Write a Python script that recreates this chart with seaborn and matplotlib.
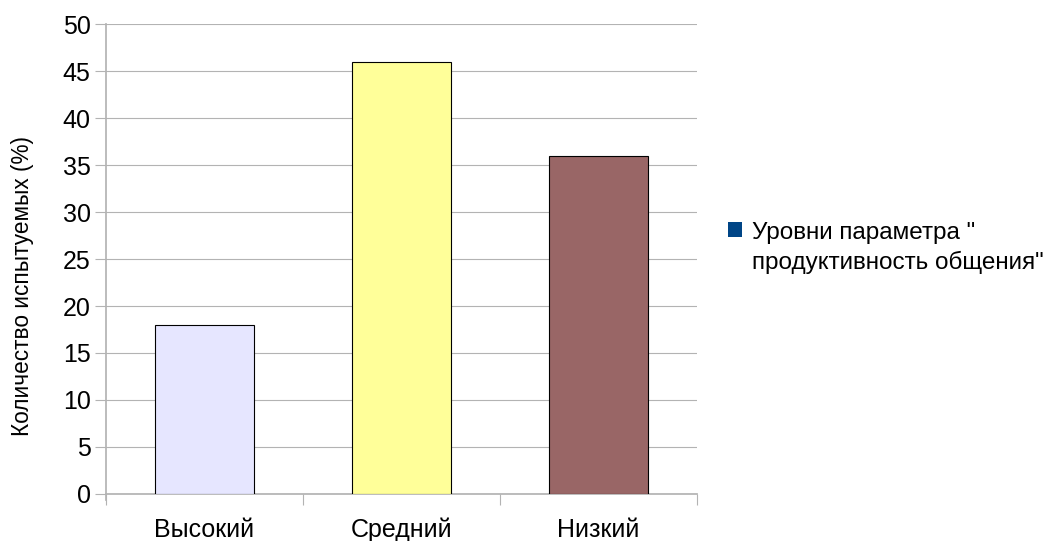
import matplotlib
matplotlib.use("Agg")
import matplotlib.pyplot as plt
from matplotlib.patches import Patch
import seaborn as sns
import pandas as pd

categories = ["Высокий", "Средний", "Низкий"]
values = [18, 46, 36]
bar_colors = ["#e6e6ff", "#ffff99", "#996666"]
series_name = "Уровни параметра \"\nпродуктивность общения\""
y_label = "Количество испытуемых (%)"
y_ticks = list(range(0, 51, 5))

sns.set_theme(style="white")
plt.rcParams["font.family"] = ["Liberation Sans", "DejaVu Sans"]

df = pd.DataFrame({"level": categories, "value": values})

fig = plt.figure(figsize=(10.47, 5.41), dpi=100)
ax = fig.add_axes([0.1012, 0.0869, 0.5645, 0.8687])

sns.barplot(data=df, x="level", y="value", hue="level", palette=bar_colors,
            saturation=1, width=0.5, edgecolor="#000000", linewidth=0.8,
            legend=False, ax=ax, zorder=3)

ax.set_xlim(-0.5, 2.5)
ax.set_ylim(0, 50)
ax.set_yticks(y_ticks)
ax.yaxis.grid(True, color="#b3b3b3", linewidth=0.8, zorder=0)
ax.set_axisbelow(True)

for side in ["top", "right"]:
    ax.spines[side].set_visible(False)
ax.spines["left"].set_color("#b3b3b3")
ax.spines["bottom"].set_color("#b3b3b3")
ax.spines["left"].set_bounds(-0.6, 50)

ax.set_xticks([0, 1, 2])
ax.set_xticklabels(categories)
ax.set_xticks([-0.5, 0.5, 1.5, 2.5], minor=True)
ax.tick_params(axis="x", which="major", length=0, labelsize=18, pad=31,
               labelcolor="#000000")
for lbl in ax.get_xticklabels():
    lbl.set_verticalalignment("baseline")
ax.tick_params(axis="x", which="minor", length=8, width=0.8, color="#b3b3b3",
               bottom=True)
ax.tick_params(axis="y", length=8, width=0.8, color="#b3b3b3", labelsize=18,
               pad=3, labelcolor="#000000", left=True)

ax.set_xlabel("")
ax.set_ylabel(y_label, fontsize=16.3, color="#000000")
ax.yaxis.set_label_coords(-0.121, 0.443)

handle = Patch(facecolor="#004586", edgecolor="none")
leg = fig.legend([handle], [series_name], loc="center left",
                 bbox_to_anchor=(0.674, 0.542), frameon=False, fontsize=17.5,
                 handlelength=0.6, handleheight=0.6, handletextpad=0.4,
                 labelcolor="#000000")
for txt in leg.get_texts():
    txt.set_linespacing(1.4)
# put the colour swatch beside the first line of the two-line label
for column in leg._legend_handle_box.get_children():
    for entry in column.get_children():
        entry.align = "top"

fig.savefig("out.png", dpi=100)
